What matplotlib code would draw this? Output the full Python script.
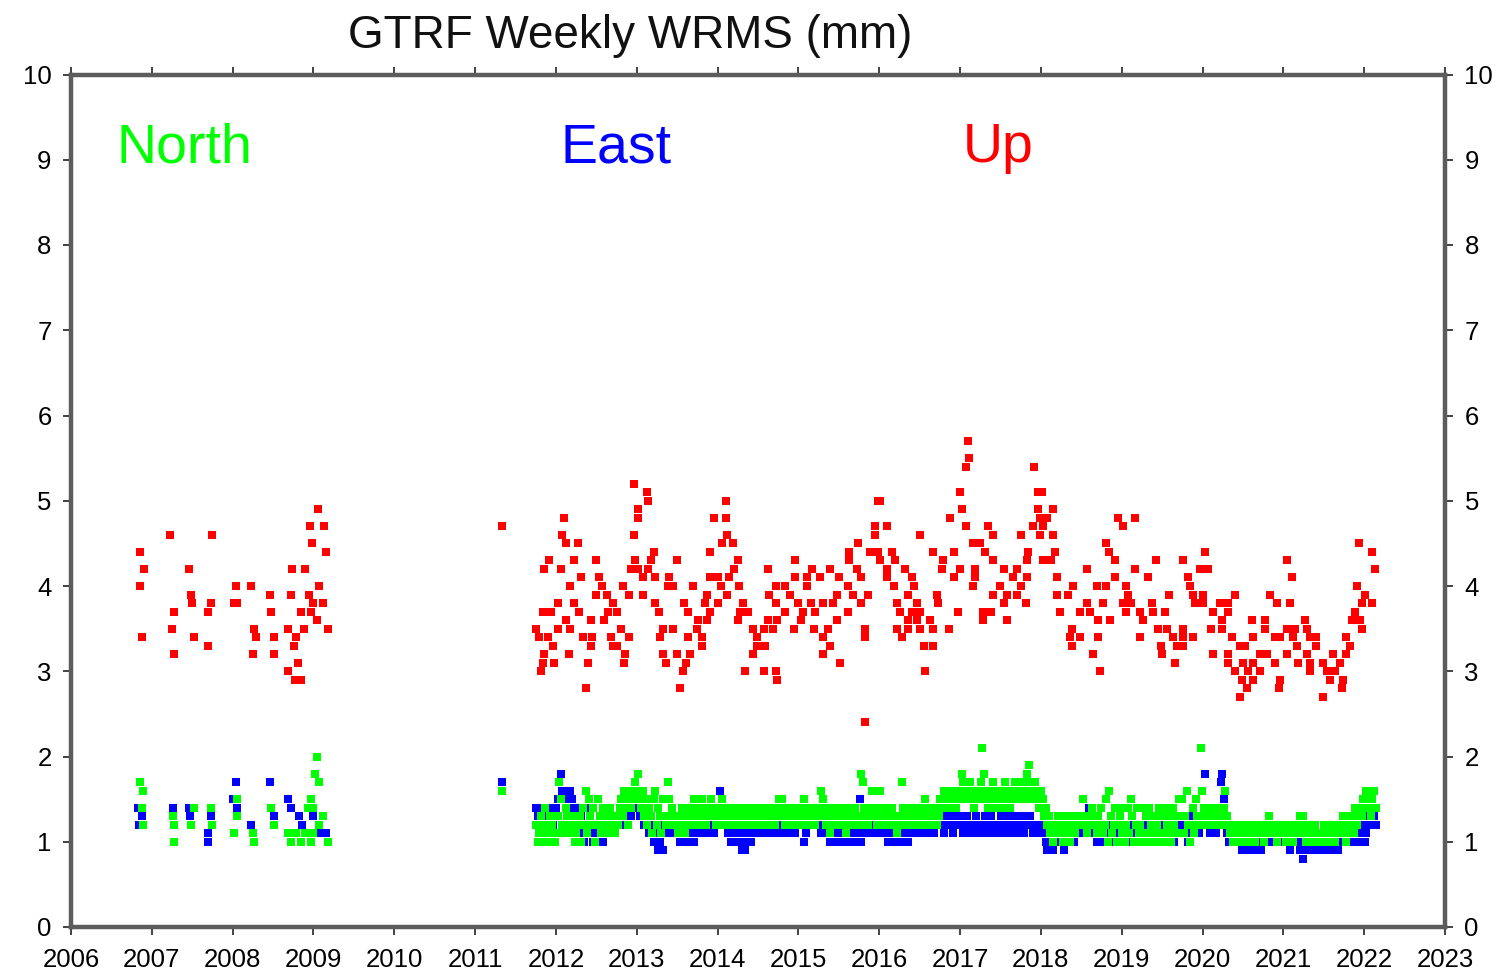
import numpy as np
import pandas as pd
import matplotlib
matplotlib.use("Agg")
import matplotlib.pyplot as plt

plt.rcParams['font.family'] = ['Liberation Sans', 'DejaVu Sans']

# Up component (mm): rows of (value, decimal years)
up_early_rows = [
    (4.9, [2009.05]),
    (4.7, [2008.96, 2009.13, 2011.33]),
    (4.6, [2007.22, 2007.74]),
    (4.5, [2008.98]),
    (4.4, [2006.85, 2009.15]),
    (4.2, [2006.90, 2007.46, 2008.74, 2008.89]),
    (4.0, [2006.85, 2008.04, 2008.23, 2009.07]),
    (3.9, [2007.48, 2008.46, 2008.72, 2008.94]),
    (3.8, [2007.50, 2007.73, 2008.02, 2008.06, 2009.00, 2009.12]),
    (3.7, [2007.27, 2007.70, 2008.47, 2008.84, 2008.97]),
    (3.6, [2009.04]),
    (3.5, [2007.25, 2008.26, 2008.68, 2008.88, 2009.18]),
    (3.4, [2006.88, 2007.52, 2008.29, 2008.51, 2008.78]),
    (3.3, [2007.69, 2008.76]),
    (3.2, [2007.27, 2008.25, 2008.51]),
    (3.1, [2008.81]),
    (3.0, [2008.69]),
    (2.9, [2008.77, 2008.84]),
]

up_main_rows = [
    (5.7, [2017.10]),
    (5.5, [2017.11]),
    (5.4, [2017.07, 2017.92]),
    (5.2, [2012.97]),
    (5.1, [2013.13, 2017.00, 2017.96, 2018.02]),
    (5.0, [2013.14, 2014.10, 2015.98, 2016.01]),
    (4.9, [2013.02, 2017.03, 2017.96, 2018.15]),
    (4.8, [2012.10, 2013.01, 2013.95, 2014.11, 2016.88, 2017.99, 2018.08, 2018.96, 2019.17]),
    (4.7, [2015.95, 2016.10, 2017.07, 2017.34, 2017.90, 2018.03, 2019.01]),
    (4.6, [2012.08, 2012.96, 2014.12, 2015.95, 2016.51, 2017.41, 2017.75, 2017.99, 2018.15]),
    (4.5, [2012.12, 2012.27, 2014.06, 2014.19, 2015.74, 2017.16, 2017.25, 2018.80, 2021.93]),
    (4.4, [2013.21, 2013.90, 2015.62, 2015.89, 2015.99, 2016.16, 2016.67, 2016.92, 2017.31,
           2017.84, 2018.18, 2018.84, 2020.03, 2022.10]),
    (4.3, [2011.91, 2012.22, 2012.50, 2012.98, 2013.18, 2013.50, 2014.25, 2014.96, 2015.62,
           2016.01, 2016.20, 2016.79, 2017.41, 2017.83, 2018.03, 2018.12, 2018.92, 2019.42,
           2019.76, 2021.05]),
    (4.2, [2011.85, 2012.06, 2012.93, 2013.02, 2013.14, 2014.20, 2014.62, 2015.17, 2015.39,
           2015.73, 2016.10, 2016.32, 2016.78, 2017.00, 2017.19, 2017.54, 2017.71, 2018.57,
           2019.17, 2019.97, 2020.07, 2022.13]),
    (4.1, [2012.31, 2012.53, 2013.08, 2013.23, 2013.40, 2013.91, 2014.00, 2014.14, 2014.96,
           2015.11, 2015.27, 2015.50, 2015.77, 2016.10, 2016.41, 2016.92, 2017.19, 2017.66,
           2017.83, 2018.20, 2018.92, 2019.32, 2019.82, 2021.11]),
    (4.0, [2012.17, 2012.57, 2012.83, 2013.39, 2013.45, 2013.70, 2014.04, 2014.26, 2014.72,
           2014.84, 2015.11, 2015.61, 2016.18, 2016.43, 2017.16, 2017.50, 2017.75, 2018.40,
           2018.70, 2018.80, 2019.05, 2019.85, 2021.91]),
    (3.9, [2012.49, 2012.63, 2012.90, 2013.08, 2013.87, 2014.12, 2014.63, 2014.90, 2015.48,
           2015.67, 2015.86, 2016.35, 2016.72, 2017.41, 2017.58, 2017.71, 2018.20, 2018.33,
           2019.08, 2019.58, 2019.88, 2020.00, 2020.40, 2020.84, 2022.01]),
    (3.8, [2012.03, 2012.22, 2012.70, 2013.23, 2013.58, 2013.85, 2014.01, 2014.31, 2014.72,
           2014.99, 2015.15, 2015.31, 2015.43, 2015.77, 2016.22, 2016.47, 2016.73, 2017.54,
           2017.81, 2018.57, 2018.77, 2019.01, 2019.11, 2019.38, 2019.91, 2020.01, 2020.22,
           2020.32, 2020.92, 2021.08, 2021.97, 2022.10]),
    (3.7, [2011.84, 2011.94, 2012.28, 2012.64, 2012.76, 2013.27, 2013.63, 2013.91, 2014.28,
           2014.38, 2014.84, 2015.06, 2015.21, 2015.61, 2016.26, 2016.41, 2016.51, 2016.98,
           2017.28, 2017.38, 2018.24, 2018.49, 2018.61, 2019.05, 2019.23, 2019.39, 2019.54,
           2020.13, 2020.31, 2021.89]),
    (3.6, [2012.12, 2012.43, 2012.59, 2013.76, 2013.87, 2014.25, 2014.62, 2014.74, 2015.03,
           2015.48, 2016.36, 2016.47, 2016.63, 2017.28, 2017.58, 2018.71, 2018.86, 2019.26,
           2020.24, 2020.61, 2020.77, 2021.27, 2021.85, 2021.95]),
    (3.5, [2011.75, 2012.02, 2012.18, 2012.80, 2013.32, 2013.45, 2013.75, 2014.44, 2014.57,
           2014.69, 2014.94, 2015.19, 2015.36, 2015.83, 2016.22, 2016.36, 2016.51, 2016.66,
           2016.86, 2018.39, 2019.45, 2019.56, 2019.76, 2020.10, 2020.24, 2020.77, 2021.05,
           2021.15, 2021.29, 2021.97]),
    (3.4, [2011.79, 2011.90, 2012.33, 2012.45, 2012.68, 2012.90, 2013.29, 2013.64, 2013.81,
           2014.49, 2015.30, 2015.83, 2016.28, 2018.36, 2018.49, 2018.71, 2019.23, 2019.64,
           2019.76, 2019.88, 2020.37, 2020.63, 2020.90, 2020.96, 2021.12, 2021.33, 2021.41,
           2021.78]),
    (3.3, [2011.96, 2012.43, 2012.70, 2012.76, 2013.81, 2014.49, 2014.59, 2015.39, 2016.55,
           2016.66, 2018.39, 2019.48, 2019.69, 2019.76, 2020.46, 2020.52, 2021.17, 2021.41,
           2021.82]),
    (3.2, [2011.85, 2012.16, 2012.86, 2013.33, 2013.50, 2013.66, 2014.44, 2015.31, 2018.65,
           2019.50, 2020.13, 2020.32, 2020.71, 2020.80, 2021.05, 2021.29, 2021.61, 2021.78]),
    (3.1, [2011.84, 2011.97, 2012.40, 2012.84, 2013.36, 2013.61, 2015.52, 2019.66, 2020.32,
           2020.50, 2020.63, 2020.90, 2021.18, 2021.33, 2021.49, 2021.70]),
    (3.0, [2011.81, 2013.57, 2014.34, 2014.57, 2014.72, 2016.57, 2018.73, 2020.40, 2020.56,
           2020.71, 2021.33, 2021.54, 2021.64]),
    (2.9, [2014.74, 2020.49, 2020.63, 2020.96, 2021.58, 2021.74]),
    (2.8, [2012.37, 2013.54, 2020.55, 2020.94, 2021.73]),
    (2.7, [2020.46, 2021.49]),
    (2.4, [2015.83]),
]

# East / North, campaign period (decimal year, mm)
east_early = [(2006.83, 1.4), (2006.88, 1.3), (2006.84, 1.2), (2007.26, 1.4), (2007.46, 1.4),
              (2007.47, 1.3), (2007.73, 1.3), (2007.70, 1.1), (2007.69, 1.0), (2008.04, 1.7),
              (2008.00, 1.5), (2008.06, 1.4), (2008.23, 1.2), (2008.46, 1.7), (2008.51, 1.3),
              (2008.69, 1.5), (2008.72, 1.4), (2008.82, 1.3), (2008.86, 1.2), (2008.93, 1.1),
              (2009.00, 1.3), (2009.09, 1.1), (2009.15, 1.1), (2011.33, 1.7)]

north_early = [(2006.85, 1.7), (2006.89, 1.6), (2006.88, 1.4), (2006.89, 1.2), (2007.26, 1.3),
               (2007.27, 1.2), (2007.28, 1.0), (2007.52, 1.4), (2007.48, 1.2), (2007.73, 1.4),
               (2007.74, 1.2), (2008.06, 1.5), (2008.05, 1.3), (2008.02, 1.1), (2008.25, 1.1),
               (2008.26, 1.0), (2008.47, 1.4), (2008.51, 1.2), (2008.68, 1.1), (2008.72, 1.0),
               (2008.78, 1.1), (2008.84, 1.0), (2008.90, 1.1), (2008.97, 1.0), (2009.00, 1.1),
               (2008.97, 1.5), (2008.93, 1.4), (2009.00, 1.4), (2009.04, 2.0), (2009.02, 1.8),
               (2009.07, 1.7), (2009.12, 1.3), (2009.18, 1.0), (2009.07, 1.2), (2011.33, 1.6)]

# weekly solutions from Oct 2011, one line per quarter
weekly_start = "2011-10-03"

east_weekly = [
    1.4, 1.3, 1.4, 1.2, 1.4, 1.3, 1.1, 1.4, 1.2, 1.3, 1.4, 1.2, 1.3,
    1.4, 1.5, 1.7, 1.8, 1.6, 1.5, 1.6, 1.4, 1.5, 1.6, 1.5, 1.3, 1.4,
    1.3, 1.2, 1.1, 1.3, 1.2, 1.0, 1.1, 1.2, 1.4, 1.2, 1.1, 1.0, 1.2,
    1.2, 1.1, 1.3, 1.0, 1.0, 1.2, 1.1, 1.3, 1.2, 1.1, 1.2, 1.3, 1.2,
    1.3, 1.2, 1.4, 1.3, 1.2, 1.4, 1.3, 1.5, 1.4, 1.3, 1.4, 1.5, 1.4,
    1.4, 1.5, 1.3, 1.4, 1.3, 1.2, 1.3, 1.2, 1.1, 1.2, 1.1, 1.0, 1.1,
    1.0, 0.9, 1.0, 1.1, 0.9, 1.2, 1.1, 1.3, 1.2, 1.1, 1.2, 1.3, 1.2,
    1.1, 1.2, 1.0, 1.1, 1.0, 1.1, 1.2, 1.0, 1.1, 1.2, 1.1, 1.0, 1.2,
    1.2, 1.3, 1.1, 1.2, 1.3, 1.2, 1.1, 1.3, 1.2, 1.3, 1.2, 1.1, 1.3,
    1.3, 1.4, 1.6, 1.5, 1.3, 1.2, 1.3, 1.1, 1.2, 1.0, 1.1, 1.2, 1.1,
    1.0, 1.1, 1.0, 0.9, 1.0, 0.9, 1.1, 1.2, 1.1, 1.0, 1.2, 1.1, 1.2,
    1.2, 1.1, 1.3, 1.2, 1.1, 1.2, 1.3, 1.1, 1.2, 1.1, 1.2, 1.3, 1.1,
    1.2, 1.1, 1.2, 1.3, 1.2, 1.3, 1.1, 1.2, 1.1, 1.3, 1.2, 1.1, 1.2,
    1.3, 1.4, 1.3, 1.2, 1.0, 1.1, 1.4, 1.3, 1.4, 1.2, 1.3, 1.4, 1.3,
    1.2, 1.3, 1.1, 1.2, 1.1, 1.3, 1.2, 1.1, 1.0, 1.1, 1.2, 1.1, 1.0,
    1.1, 1.0, 1.2, 1.1, 1.0, 1.2, 1.3, 1.1, 1.0, 1.1, 1.2, 1.0, 1.1,
    1.2, 1.5, 1.0, 1.1, 1.2, 1.3, 1.2, 1.1, 1.2, 1.3, 1.1, 1.2, 1.1,
    1.2, 1.1, 1.2, 1.3, 1.1, 1.2, 1.0, 1.1, 1.2, 1.0, 1.1, 1.2, 1.1,
    1.0, 1.1, 1.0, 1.1, 1.2, 1.1, 1.0, 1.1, 1.2, 1.1, 1.2, 1.1, 1.2,
    1.1, 1.2, 1.1, 1.2, 1.3, 1.2, 1.1, 1.2, 1.1, 1.2, 1.1, 1.2, 1.3,
    1.2, 1.3, 1.2, 1.1, 1.2, 1.3, 1.2, 1.3, 1.2, 1.1, 1.2, 1.3, 1.2,
    1.2, 1.3, 1.2, 1.1, 1.2, 1.3, 1.2, 1.1, 1.2, 1.1, 1.2, 1.3, 1.2,
    1.2, 1.1, 1.2, 1.1, 1.3, 1.2, 1.1, 1.2, 1.3, 1.2, 1.1, 1.2, 1.1,
    1.2, 1.3, 1.2, 1.1, 1.2, 1.3, 1.2, 1.1, 1.2, 1.3, 1.2, 1.1, 1.2,
    1.2, 1.3, 1.2, 1.1, 1.3, 1.2, 1.6, 1.3, 1.2, 1.1, 1.2, 1.1, 1.2,
    1.2, 1.1, 1.2, 1.1, 1.0, 0.9, 1.0, 1.1, 1.0, 0.9, 1.0, 1.1, 1.0,
    1.0, 1.1, 1.0, 0.9, 1.1, 1.0, 1.1, 1.2, 1.1, 1.0, 1.1, 1.2, 1.1,
    1.1, 1.2, 1.1, 1.2, 1.3, 1.1, 1.4, 1.2, 1.1, 1.2, 1.1, 1.0, 1.1,
    1.1, 1.2, 1.0, 1.1, 1.2, 1.1, 1.0, 1.2, 1.1, 1.2, 1.1, 1.0, 1.1,
    1.1, 1.0, 1.1, 1.2, 1.1, 1.0, 1.1, 1.0, 1.2, 1.1, 1.0, 1.1, 1.0,
    1.0, 1.1, 1.0, 1.1, 1.0, 1.2, 1.1, 1.0, 1.1, 1.2, 1.1, 1.0, 1.1,
    1.1, 1.2, 1.1, 1.0, 1.1, 1.2, 1.1, 1.0, 1.1, 1.0, 1.1, 1.2, 1.1,
    1.1, 1.2, 1.1, 1.2, 1.1, 1.0, 1.1, 1.2, 1.3, 1.2, 1.1, 1.2, 1.1,
    1.2, 1.3, 1.4, 1.8, 1.3, 1.2, 1.1, 1.2, 1.3, 1.2, 1.1, 1.3, 1.2,
    1.7, 1.8, 1.5, 1.2, 1.1, 1.0, 1.1, 1.2, 1.1, 1.0, 1.1, 1.0, 1.1,
    1.0, 0.9, 1.0, 1.1, 1.0, 0.9, 1.0, 1.1, 1.0, 0.9, 1.0, 1.1, 1.0,
    0.9, 1.0, 1.1, 1.0, 1.1, 1.0, 1.1, 1.2, 1.1, 1.0, 1.1, 1.0, 1.1,
    1.1, 1.0, 1.1, 1.0, 1.1, 1.0, 0.9, 1.0, 1.1, 1.0, 1.1, 1.0, 0.9,
    0.9, 0.8, 0.9, 1.0, 0.9, 1.0, 1.1, 1.0, 0.9, 1.0, 0.9, 1.0, 1.1,
    1.0, 0.9, 1.0, 0.9, 1.0, 1.1, 1.0, 0.9, 1.0, 1.1, 1.0, 0.9, 1.0,
    1.0, 1.1, 1.0, 1.1, 1.2, 1.0, 1.1, 1.0, 1.1, 1.2, 1.1, 1.0, 1.1,
    1.4, 1.2, 1.0, 1.1, 1.3, 1.2, 1.3, 1.4, 1.3, 1.2,
]

north_weekly = [
    1.2, 1.0, 1.1, 1.3, 1.0, 1.2, 1.4, 1.1, 1.0, 1.3, 1.2, 1.1, 1.0,
    1.1, 1.3, 1.7, 1.5, 1.2, 1.1, 1.4, 1.3, 1.2, 1.1, 1.3, 1.2, 1.0,
    1.1, 1.2, 1.3, 1.0, 1.4, 1.2, 1.6, 1.1, 1.5, 1.3, 1.2, 1.4, 1.0,
    1.2, 1.5, 1.3, 1.1, 1.4, 1.2, 1.3, 1.1, 1.2, 1.4, 1.3, 1.2, 1.1,
    1.3, 1.2, 1.4, 1.5, 1.3, 1.6, 1.4, 1.2, 1.5, 1.4, 1.6, 1.5, 1.7,
    1.6, 1.8, 1.5, 1.4, 1.6, 1.3, 1.5, 1.2, 1.4, 1.3, 1.1, 1.5, 1.6,
    1.2, 1.4, 1.3, 1.1, 1.5, 1.3, 1.2, 1.7, 1.5, 1.3, 1.4, 1.2, 1.3,
    1.2, 1.1, 1.3, 1.4, 1.2, 1.1, 1.3, 1.2, 1.4, 1.3, 1.2, 1.5, 1.3,
    1.4, 1.2, 1.3, 1.5, 1.4, 1.3, 1.2, 1.4, 1.3, 1.5, 1.4, 1.3, 1.2,
    1.3, 1.4, 1.2, 1.5, 1.3, 1.4, 1.2, 1.3, 1.4, 1.2, 1.3, 1.4, 1.3,
    1.2, 1.3, 1.4, 1.2, 1.3, 1.2, 1.4, 1.3, 1.2, 1.3, 1.4, 1.3, 1.2,
    1.3, 1.2, 1.4, 1.3, 1.2, 1.3, 1.4, 1.2, 1.3, 1.4, 1.3, 1.2, 1.3,
    1.4, 1.5, 1.3, 1.5, 1.4, 1.2, 1.3, 1.4, 1.2, 1.3, 1.4, 1.3, 1.2,
    1.3, 1.2, 1.4, 1.3, 1.5, 1.4, 1.2, 1.3, 1.2, 1.4, 1.3, 1.2, 1.4,
    1.3, 1.4, 1.6, 1.5, 1.3, 1.2, 1.4, 1.3, 1.1, 1.3, 1.2, 1.4, 1.3,
    1.2, 1.3, 1.4, 1.2, 1.3, 1.1, 1.2, 1.4, 1.3, 1.2, 1.3, 1.4, 1.2,
    1.3, 1.2, 1.8, 1.7, 1.4, 1.3, 1.2, 1.4, 1.3, 1.6, 1.4, 1.3, 1.2,
    1.3, 1.6, 1.4, 1.3, 1.2, 1.4, 1.3, 1.2, 1.3, 1.4, 1.2, 1.3, 1.1,
    1.3, 1.2, 1.7, 1.4, 1.3, 1.2, 1.3, 1.4, 1.2, 1.3, 1.2, 1.4, 1.3,
    1.3, 1.2, 1.4, 1.3, 1.5, 1.3, 1.2, 1.4, 1.3, 1.2, 1.4, 1.3, 1.2,
    1.3, 1.5, 1.4, 1.6, 1.5, 1.4, 1.6, 1.5, 1.4, 1.5, 1.6, 1.4, 1.5,
    1.6, 1.5, 1.8, 1.7, 1.6, 1.5, 1.6, 1.7, 1.5, 1.6, 1.4, 1.5, 1.6,
    1.5, 1.7, 2.1, 1.8, 1.6, 1.5, 1.4, 1.6, 1.5, 1.7, 1.5, 1.4, 1.6,
    1.5, 1.6, 1.4, 1.5, 1.7, 1.6, 1.5, 1.4, 1.6, 1.5, 1.7, 1.6, 1.5,
    1.6, 1.5, 1.7, 1.6, 1.5, 1.8, 1.9, 1.7, 1.6, 1.5, 1.7, 1.6, 1.5,
    1.4, 1.6, 1.5, 1.3, 1.4, 1.2, 1.3, 1.1, 1.2, 1.0, 1.2, 1.1, 1.3,
    1.1, 1.2, 1.0, 1.1, 1.3, 1.2, 1.1, 1.0, 1.2, 1.3, 1.1, 1.2, 1.3,
    1.2, 1.3, 1.5, 1.3, 1.2, 1.1, 1.3, 1.2, 1.4, 1.3, 1.2, 1.1, 1.3,
    1.2, 1.4, 1.1, 1.2, 1.5, 1.0, 1.6, 1.3, 1.1, 1.2, 1.4, 1.0, 1.2,
    1.3, 1.1, 1.4, 1.0, 1.2, 1.4, 1.1, 1.5, 1.3, 1.0, 1.2, 1.4, 1.1,
    1.2, 1.0, 1.4, 1.1, 1.3, 1.0, 1.4, 1.2, 1.1, 1.3, 1.0, 1.2, 1.4,
    1.1, 1.3, 1.0, 1.4, 1.2, 1.1, 1.3, 1.0, 1.4, 1.2, 1.1, 1.3, 1.5,
    1.3, 1.5, 1.1, 1.3, 1.6, 1.2, 1.0, 1.2, 1.4, 1.1, 1.5, 1.3, 1.2,
    2.1, 1.6, 1.4, 1.3, 1.2, 1.4, 1.3, 1.2, 1.3, 1.2, 1.4, 1.3, 1.2,
    1.3, 1.2, 1.4, 1.6, 1.3, 1.2, 1.1, 1.2, 1.0, 1.1, 1.2, 1.1, 1.0,
    1.1, 1.2, 1.0, 1.1, 1.2, 1.1, 1.0, 1.2, 1.1, 1.0, 1.1, 1.2, 1.1,
    1.2, 1.1, 1.0, 1.2, 1.1, 1.3, 1.2, 1.1, 1.2, 1.1, 1.0, 1.1, 1.2,
    1.1, 1.2, 1.1, 1.0, 1.2, 1.1, 1.2, 1.1, 1.0, 1.1, 1.2, 1.1, 1.3,
    1.2, 1.3, 1.1, 1.0, 1.1, 1.2, 1.0, 1.1, 1.0, 1.2, 1.1, 1.0, 1.1,
    1.0, 1.1, 1.2, 1.1, 1.0, 1.1, 1.0, 1.2, 1.1, 1.0, 1.1, 1.2, 1.1,
    1.2, 1.3, 1.1, 1.0, 1.2, 1.1, 1.3, 1.2, 1.1, 1.4, 1.2, 1.3, 1.4,
    1.3, 1.5, 1.4, 1.6, 1.5, 1.4, 1.3, 1.5, 1.6, 1.4,
]


def rows_to_arrays(rows):
    t = np.concatenate([yrs for mm, yrs in rows])
    v = np.concatenate([[mm] * len(yrs) for mm, yrs in rows])
    return t, v


def decimal_year(dates):
    return dates.year + (dates.dayofyear - 0.5) / 365.25


up_t1, up_v1 = rows_to_arrays(up_early_rows)
up_t2, up_v2 = rows_to_arrays(up_main_rows)
up_t = np.concatenate([up_t1, up_t2])
up_v = np.concatenate([up_v1, up_v2])

east_dates = decimal_year(pd.date_range(weekly_start, periods=len(east_weekly), freq="7D"))
north_dates = decimal_year(pd.date_range(weekly_start, periods=len(north_weekly), freq="7D"))
east_t = np.concatenate([[p[0] for p in east_early], east_dates])
east_v = np.concatenate([[p[1] for p in east_early], east_weekly])
north_t = np.concatenate([[p[0] for p in north_early], north_dates])
north_v = np.concatenate([[p[1] for p in north_early], north_weekly])

RED, BLUE, GREEN = "#ff0000", "#0000ff", "#00ff00"

fig = plt.figure(figsize=(15.01, 9.74), dpi=100)
ax = fig.add_axes([71 / 1501, 47 / 974, 1374 / 1501, 852.5 / 974])

mk = dict(linestyle="none", marker="s", ms=5.2, mew=0)
ax.plot(up_t, up_v, color=RED, **mk)
ax.plot(east_t, east_v, color=BLUE, **mk)
ax.plot(north_t, north_v, color=GREEN, **mk)

ax.set_xlim(2006, 2023)
ax.set_ylim(0, 10)
ax.set_xticks(range(2006, 2024))
ax.set_yticks(range(0, 11))

for sp in ax.spines.values():
    sp.set_color("#5c5c5c")
    sp.set_linewidth(3.2)

ax.tick_params(axis="both", which="major", direction="out", length=6, width=1.2,
               color="#222222", labelsize=18.5, top=True, right=True, labelright=True)
ax.tick_params(axis="x", pad=9)
ax.tick_params(axis="y", pad=8)

ax.text(2006.56, 8.97, "North", color=GREEN, fontsize=40, va="baseline")
ax.text(2012.06, 8.97, "East", color=BLUE, fontsize=40, va="baseline")
ax.text(2017.03, 8.97, "Up", color=RED, fontsize=40, va="baseline")

fig.text(630 / 1501, 1 - 48 / 974, "GTRF Weekly WRMS (mm)", fontsize=33,
         ha="center", va="baseline", color="#111111")

fig.savefig("out.png", dpi=100)
